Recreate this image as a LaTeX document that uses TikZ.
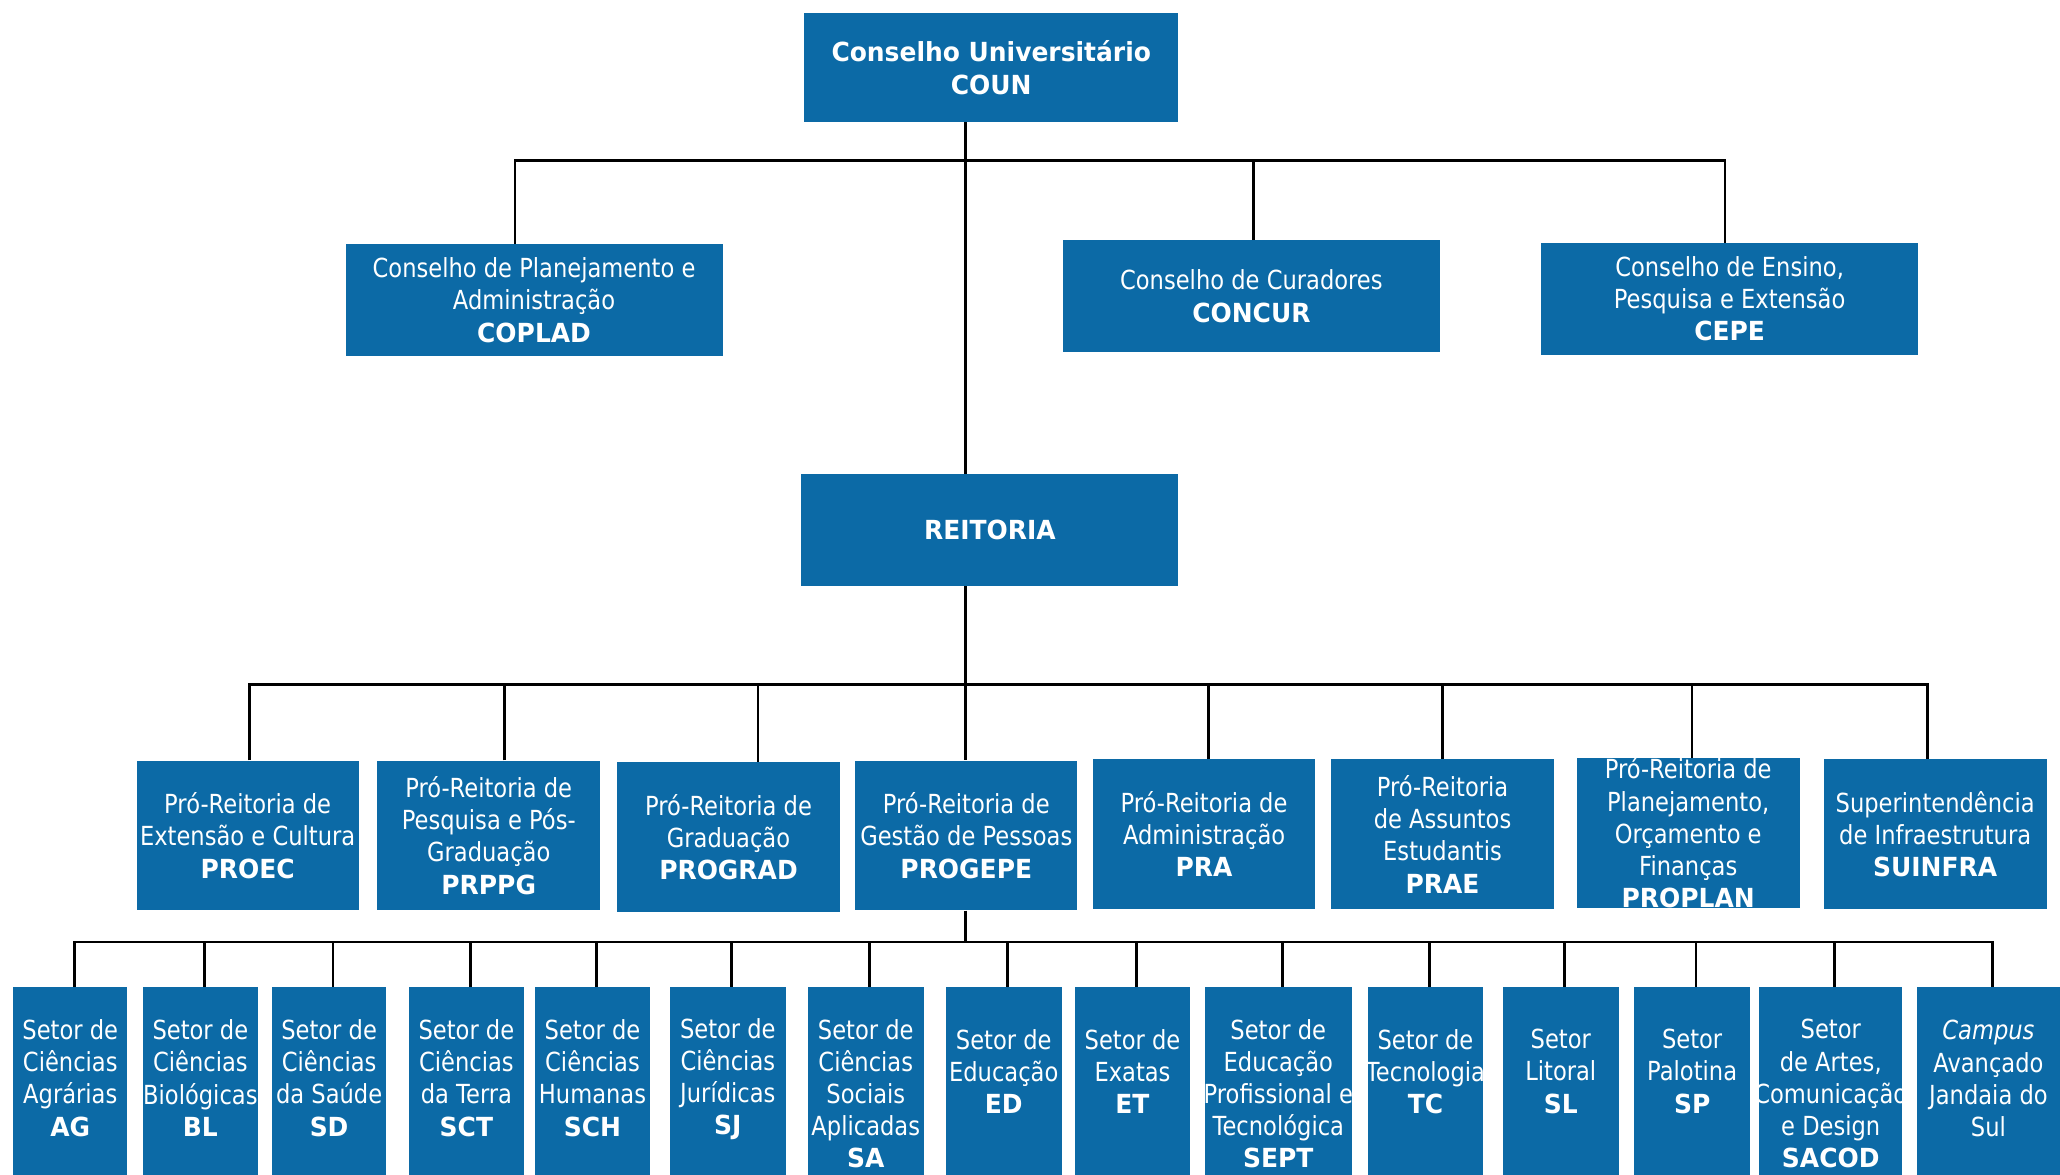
\documentclass[tikz,border=0pt]{standalone}
\usepackage{fontspec}
\setmainfont{DejaVu Sans}[FakeStretch=0.86,BoldFeatures={FakeStretch=0.95}]
\definecolor{ufpr}{RGB}{12,106,166}
\begin{document}
\begin{tikzpicture}
    [x=1pt,y=-1pt,
    box/.style={fill=ufpr,text=white,inner sep=0pt,align=center,font=\fontsize{20}{24.5}\selectfont},
    setor/.style={fill=ufpr,inner sep=0pt,anchor=north,minimum height=190pt},
    setortxt/.style={text=white,inner sep=0pt,align=center,font=\fontsize{20}{24.5}\selectfont},
    link/.style={line width=2pt}]
    \useasboundingbox (0,0) rectangle (1568,894);
    %conselhos
    \node[box,minimum width=285pt,minimum height=83pt] (coun) at (754.5,51.5) {\textbf{Conselho Universitário}\\\textbf{COUN}};
    \node[box,minimum width=287pt,minimum height=85pt] (coplad) at (406.5,228.5) {Conselho de Planejamento e\\Administração\\\textbf{COPLAD}};
    \node[box,minimum width=287pt,minimum height=85pt] (concur) at (952.5,225.5) {Conselho de Curadores\\\textbf{CONCUR}};
    \node[box,minimum width=287pt,minimum height=85pt] (cepe) at (1316.5,227.5) {Conselho de Ensino,\\Pesquisa e Extensão\\\textbf{CEPE}};
    \node[box,minimum width=287pt,minimum height=85pt] (reitoria) at (753.5,403.5) {\textbf{REITORIA}};
    %pro-reitorias
    \node[box,minimum width=169pt,minimum height=114pt] (proec) at (188.5,636) {Pró-Reitoria de\\Extensão e Cultura\\\textbf{PROEC}};
    \node[box,minimum width=170pt,minimum height=114pt] (prppg) at (372,636) {Pró-Reitoria de\\Pesquisa e Pós-\\Graduação\\\textbf{PRPPG}};
    \node[box,minimum width=169pt,minimum height=114pt] (prograd) at (554.5,637) {Pró-Reitoria de\\Graduação\\\textbf{PROGRAD}};
    \node[box,minimum width=169pt,minimum height=114pt] (progepe) at (735.5,636) {Pró-Reitoria de\\Gestão de Pessoas\\\textbf{PROGEPE}};
    \node[box,minimum width=169pt,minimum height=114pt] (pra) at (916.5,635) {Pró-Reitoria de\\Administração\\\textbf{PRA}};
    \node[box,minimum width=170pt,minimum height=114pt] (prae) at (1098,635) {Pró-Reitoria\\de Assuntos\\Estudantis\\\textbf{PRAE}};
    \node[box,minimum width=170pt,minimum height=114pt] (proplan) at (1285,634) {Pró-Reitoria de\\Planejamento,\\Orçamento e\\Finanças\\\textbf{PROPLAN}};
    \node[box,minimum width=170pt,minimum height=114pt] (suinfra) at (1473,635) {Superintendência\\de Infraestrutura\\\textbf{SUINFRA}};
    %setores
    \node[setor,minimum width=87pt] (ag) at (53.5,751) {};
    \node[setor,minimum width=87pt] (bl) at (152.5,751) {};
    \node[setor,minimum width=87pt] (sd) at (250.5,751) {};
    \node[setor,minimum width=88pt] (sct) at (355,751) {};
    \node[setor,minimum width=88pt] (sch) at (451,751) {};
    \node[setor,minimum width=88pt] (sj) at (554,751) {};
    \node[setor,minimum width=88pt] (sa) at (659,751) {};
    \node[setor,minimum width=88pt] (ed) at (764,751) {};
    \node[setor,minimum width=88pt] (et) at (862,751) {};
    \node[setor,minimum width=112pt] (sept) at (973,751) {};
    \node[setor,minimum width=88pt] (tc) at (1085,751) {};
    \node[setor,minimum width=88pt] (sl) at (1188,751) {};
    \node[setor,minimum width=88pt] (sp) at (1288,751) {};
    \node[setor,minimum width=109pt] (sacod) at (1393.5,751) {};
    \node[setor,minimum width=109pt] (campus) at (1513.5,751) {};
    %setores text
    \node[setortxt] (ag-t) at ([yshift=-69.5pt]ag.north) {Setor de\\Ciências\\Agrárias\\\textbf{AG}};
    \node[setortxt] (bl-t) at ([yshift=-69.5pt]bl.north) {Setor de\\Ciências\\Biológicas\\\textbf{BL}};
    \node[setortxt] (sd-t) at ([yshift=-69.5pt]sd.north) {Setor de\\Ciências\\da Saúde\\\textbf{SD}};
    \node[setortxt] (sct-t) at ([yshift=-69.5pt]sct.north) {Setor de\\Ciências\\da Terra\\\textbf{SCT}};
    \node[setortxt] (sch-t) at ([yshift=-69.5pt]sch.north) {Setor de\\Ciências\\Humanas\\\textbf{SCH}};
    \node[setortxt] (sj-t) at ([yshift=-70.5pt]sj.north) {Setor de\\Ciências\\Jurídicas\\\textbf{SJ}};
    \node[setortxt] (sa-t) at ([yshift=-81.5pt]sa.north) {Setor de\\Ciências\\Sociais\\Aplicadas\\\textbf{SA}};
    \node[setortxt] (ed-t) at ([yshift=-64.5pt]ed.north) {Setor de\\Educação\\\textbf{ED}};
    \node[setortxt] (et-t) at ([yshift=-64.5pt]et.north) {Setor de\\Exatas\\\textbf{ET}};
    \node[setortxt] (sept-t) at ([yshift=-81.5pt]sept.north) {Setor de\\Educação\\Profissional e\\Tecnológica\\\textbf{SEPT}};
    \node[setortxt] (tc-t) at ([yshift=-64.5pt]tc.north) {Setor de\\Tecnologia\\\textbf{TC}};
    \node[setortxt] (sl-t) at ([yshift=-64.5pt]sl.north) {Setor\\Litoral\\\textbf{SL}};
    \node[setortxt] (sp-t) at ([yshift=-64.5pt]sp.north) {Setor\\Palotina\\\textbf{SP}};
    \node[setortxt] (sacod-t) at ([yshift=-81.5pt]sacod.north) {Setor\\de Artes,\\Comunicação\\e Design\\\textbf{SACOD}};
    \node[setortxt] (campus-t) at ([yshift=-70pt]campus.north) {\textit{Campus}\\Avançado\\Jandaia do\\Sul};
    %lines
    \coordinate (spine) at (735,122);
    \coordinate (bus2) at (735,521);
    \coordinate (bus3) at (735,717);
    \draw[link] (coun.south -| spine) -- (reitoria.north -| spine);
    \draw[link] ([xshift=-14.5pt]coplad.north) |- ([xshift=-3.5pt]cepe.north |- spine) -- ([xshift=-3.5pt]cepe.north);
    \draw[link] ([xshift=1.5pt]concur.north) -- ([xshift=1.5pt]concur.north |- spine);
    \draw[link] (reitoria.south -| spine) -- (progepe.north -| spine);
    \draw[link] ([xshift=1.5pt]proec.north) |- ([xshift=-6pt]suinfra.north |- bus2) -- ([xshift=-6pt]suinfra.north);
    \draw[link] ([xshift=12pt]prppg.north) -- ([xshift=12pt]prppg.north |- bus2);
    \draw[link] ([xshift=22.5pt]prograd.north) -- ([xshift=22.5pt]prograd.north |- bus2);
    \draw[link] ([xshift=3.5pt]pra.north) -- ([xshift=3.5pt]pra.north |- bus2);
    \draw[link] (prae.north) -- (prae.north |- bus2);
    \draw[link] ([xshift=3pt]proplan.north) -- ([xshift=3pt]proplan.north |- bus2);
    \draw[link] (progepe.south -| spine) -- (bus3);
    \foreach \s in {ag,bl,sd,sct,sch,sj,sa,ed,et,sept,tc,sl,sp,sacod,campus}
        \draw[link] ([xshift=3pt]\s.north) |- (bus3);
\end{tikzpicture}
\end{document}
